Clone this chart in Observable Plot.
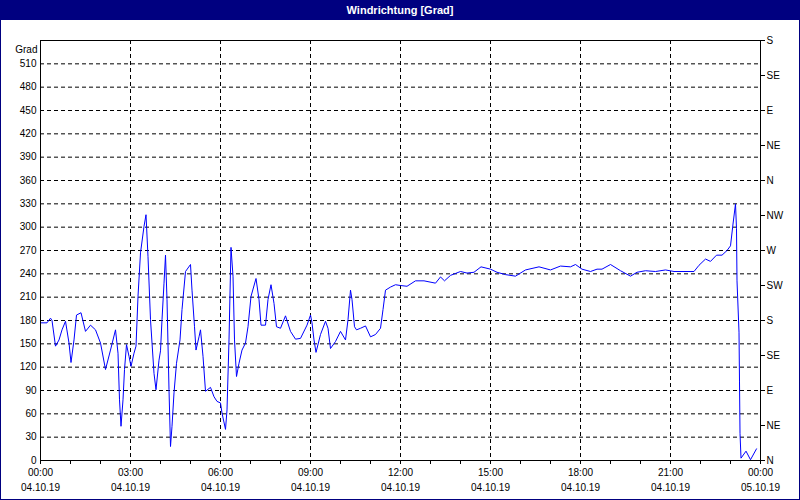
<!DOCTYPE html>
<html>
<head>
<meta charset="utf-8">
<script src="https://cdn.jsdelivr.net/npm/d3@7"></script>
<script src="https://cdn.jsdelivr.net/npm/@observablehq/plot@0.6"></script>
<style>
  body { margin: 0; background: #fff; }
  #frame { position: relative; width: 800px; height: 500px; background: #fff; overflow: hidden;
           font-family: "Liberation Sans", Arial, sans-serif; }
  #title { position: absolute; left: 0; top: 0; width: 800px; height: 20px; background: #000080;
           color: #fff; font-weight: bold; font-size: 11px; line-height: 20px; text-align: center; }
  #chart { position: absolute; left: 0; top: 20px; }
  #border { position: absolute; left: 0; top: 0; width: 800px; height: 500px; box-sizing: border-box;
            border: 1px solid #000080; pointer-events: none; }
</style>
</head>
<body>
<div id="frame">
  <div id="title">Windrichtung [Grad]</div>
  <div id="chart"></div>
  <div id="border"></div>
</div>
<script>
// Time in minutes since 04.10.19 00:00
const minutes = [0,13,20,23,30,37,43,50,57,61,67,72,81,90,100,110,120,130,140,150,155,158,161,165,168,172,177,181,187,191,195,200,207,211,215,220,227,231,237,240,243,247,250,253,257,260,263,267,272,279,283,290,300,303,308,311,317,320,325,330,340,347,353,360,363,370,373,377,381,385,388,392,397,403,410,415,421,431,437,441,450,455,461,467,472,480,490,500,510,520,533,540,543,547,551,560,570,575,580,590,600,610,615,620,623,628,632,640,650,660,670,680,685,690,700,710,720,733,750,767,790,800,808,820,840,853,867,881,900,913,930,950,970,997,1020,1040,1060,1070,1083,1100,1113,1123,1140,1160,1180,1193,1210,1230,1250,1267,1287,1307,1317,1330,1340,1352,1363,1373,1380,1385,1390,1392,1393,1397,1398,1399,1401,1411,1420,1432];
// Wind direction in degrees
const degrees = [177,177,183,180,147,155,168,179,151,126,155,187,190,166,174,168,151,117,142,168,138,78,44,78,117,149,134,121,138,147,211,267,301,316,262,181,112,91,129,141,181,228,264,207,91,18,44,87,125,155,194,243,252,219,172,142,159,168,134,89,94,82,76,74,61,40,65,155,274,237,155,108,125,142,151,172,211,234,207,174,174,207,226,202,172,170,186,166,156,157,174,187,177,155,139,162,179,170,144,153,166,155,181,219,207,172,168,170,173,159,162,170,194,219,223,226,225,224,231,231,228,236,231,238,243,241,242,249,246,242,239,237,245,249,245,250,249,252,246,243,246,246,252,244,237,242,244,243,245,243,243,243,251,259,256,264,264,270,276,304,330,298,231,165,101,35,3,12,1,15];

const yTicks = [0,30,60,90,120,150,180,210,240,270,300,330,360,390,420,450,480,510];
const compassTicks = [0,45,90,135,180,225,270,315,360,405,450,495,540];
const compassLabels = ["N","NE","E","SE","S","SW","W","NW","N","NE","E","SE","S"];
const hourTicks = d3.range(0, 1441, 60);
const labelTicks = [0,180,360,540,720,900,1080,1260,1440];
const timeLabels = ["00:00","03:00","06:00","09:00","12:00","15:00","18:00","21:00","00:00"];
const dateLabels = ["04.10.19","04.10.19","04.10.19","04.10.19","04.10.19","04.10.19","04.10.19","04.10.19","05.10.19"];

const data = minutes.map((m, i) => ({m, v: degrees[i]}));

const chart = Plot.plot({
  width: 800,
  height: 480,
  marginTop: 20,
  marginBottom: 40,
  marginLeft: 40,
  marginRight: 40,
  style: {fontFamily: "Liberation Sans, Arial, sans-serif", fontSize: "10px", color: "#000", background: "transparent"},
  x: {type: "linear", domain: [0, 1440]},
  y: {type: "linear", domain: [0, 540]},
  marks: [
    Plot.gridY(yTicks.filter(d => d > 0), {stroke: "#000", strokeOpacity: 1, strokeDasharray: "4,3"}),
    Plot.gridX(labelTicks.filter(d => d > 0 && d < 1440), {stroke: "#000", strokeOpacity: 1, strokeDasharray: "4,3"}),
    Plot.line(data, {x: "m", y: "v", stroke: "#0000ff", strokeWidth: 1}),
    Plot.frame({stroke: "#000", strokeWidth: 1}),
    Plot.axisY(yTicks, {anchor: "left", tickSize: 0, tickPadding: 4, fontSize: 10, label: null}),
    Plot.text(["Grad"], {frameAnchor: "top-left", textAnchor: "end", dx: -3, dy: 5, fontSize: 10, fill: "#000"}),
    Plot.axisY(compassTicks, {anchor: "right", tickSize: 4, tickPadding: 2, fontSize: 10, label: null,
      tickFormat: d => compassLabels[compassTicks.indexOf(d)]}),
    Plot.axisX(hourTicks, {anchor: "bottom", tickSize: 4, tickFormat: () => "", label: null}),
    Plot.axisX(labelTicks, {anchor: "bottom", tickSize: 0, tickPadding: 8, fontSize: 10, label: null,
      tickFormat: d => timeLabels[labelTicks.indexOf(d)]}),
    Plot.axisX(labelTicks, {anchor: "bottom", tickSize: 0, tickPadding: 23, fontSize: 10, label: null,
      tickFormat: d => dateLabels[labelTicks.indexOf(d)]})
  ]
});
document.getElementById("chart").appendChild(chart);
</script>
</body>
</html>
